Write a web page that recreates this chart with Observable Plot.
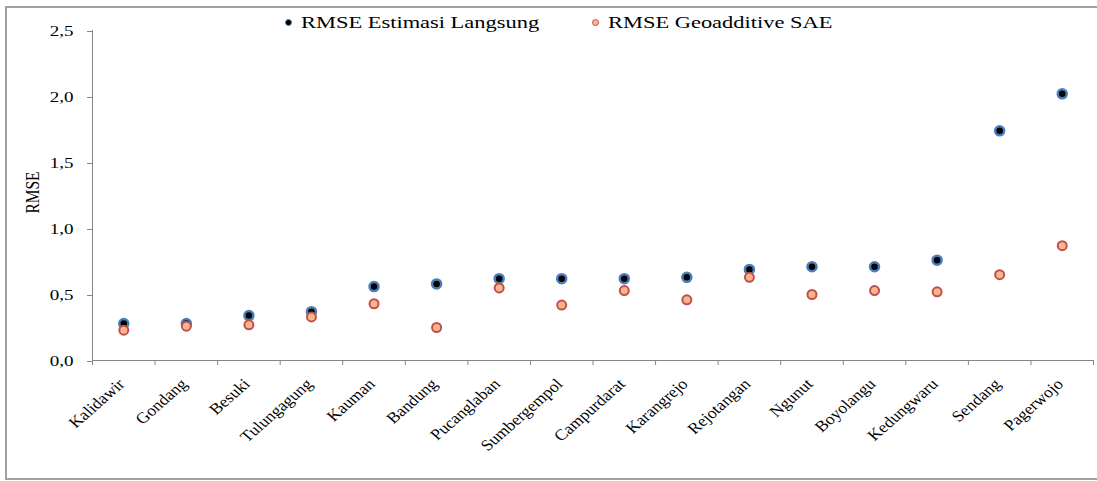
<!DOCTYPE html>
<html><head><meta charset="utf-8">
<script src="https://cdn.jsdelivr.net/npm/d3@7"></script>
<script src="https://cdn.jsdelivr.net/npm/@observablehq/plot@0.6"></script>
<style>
html,body{margin:0;padding:0;background:#fff;}
#wrap{position:relative;width:1097px;height:481px;overflow:hidden;background:#fff;}
#frame{position:absolute;left:5px;top:6px;width:1200px;height:474px;border:2px solid #a0a0a0;box-sizing:border-box;pointer-events:none;}
#chart{position:absolute;left:0;top:0;}
.legdot{position:absolute;width:7px;height:7px;border-radius:50%;box-sizing:border-box;}
.legtxt{position:absolute;top:15px;font-family:"Liberation Serif","Times New Roman",serif;font-size:16.5px;line-height:16.5px;color:#000;white-space:nowrap;transform:scaleX(1.36);transform-origin:left center;}
</style>
</head><body>
<div id="wrap">
  <div id="chart"></div>
  <div id="legend"></div>
  <div id="frame"></div>
</div>
<script>
const categories = ["Kalidawir","Gondang","Besuki","Tulungagung","Kauman","Bandung","Pucanglaban","Sumbergempol","Campurdarat","Karangrejo","Rejotangan","Ngunut","Boyolangu","Kedungwaru","Sendang","Pagerwojo"];
const rmseLangsung = [0.28,0.28,0.34,0.37,0.56,0.58,0.62,0.62,0.62,0.63,0.69,0.71,0.71,0.76,1.74,2.02];
const rmseGeoadditive = [0.23,0.26,0.27,0.33,0.43,0.25,0.55,0.42,0.53,0.46,0.63,0.50,0.53,0.52,0.65,0.87];
const yTicks = [0,0.5,1,1.5,2,2.5];
const seriesNames = ["RMSE Estimasi Langsung","RMSE Geoadditive SAE"];
const yLabel = "RMSE";

const rows = categories.map((c,i)=>({c, a: rmseLangsung[i], b: rmseGeoadditive[i]}));

const W=1097, H=481, mL=92, mR=4, mT=30, mB=121;
const step = (W-mL-mR)/categories.length;
const fmt = d => d.toFixed(1).replace(".", ",");
const axisColor = "#868686";

const chart = Plot.plot({
  width: W, height: H,
  marginLeft: mL, marginRight: mR, marginTop: mT, marginBottom: mB,
  style: {fontFamily: '"Liberation Serif","Times New Roman",serif', fontSize: "15px", color: "#000", background: "transparent"},
  x: {type: "point", domain: categories, padding: 0.5, round: false, axis: null},
  y: {domain: [0, 2.5], axis: null},
  marks: [
    Plot.ruleY([0], {stroke: axisColor, strokeWidth: 1}),
    Plot.ruleX([categories[0]], {dx: -step/2, y1: 0, y2: 2.5, stroke: axisColor, strokeWidth: 1}),
    Plot.axisY({ticks: yTicks, tickFormat: fmt, tickSize: 5, tickPadding: 14, dy: 1, stroke: axisColor, fill: "#000", label: null}),
    Plot.text([yLabel], {text: d => d, frameAnchor: "left", textAnchor: "middle", dx: -60, dy: -3, rotate: -90, fill: "#000", fontSize: 15.5}),
    Plot.axisX({ticks: categories, tickFormat: () => "", tickSize: 5, dx: -step/2, stroke: axisColor, label: null}),
    Plot.axisX({ticks: [categories[categories.length-1]], tickFormat: () => "", tickSize: 5, dx: step/2, stroke: axisColor, label: null}),
    Plot.axisX({ticks: categories, tickSize: 0, tickPadding: 21, dx: -2, tickRotate: -45, fill: "#000", fontSize: 15.5, label: null}),
    Plot.dot(rows, {x: "c", y: "a", r: 4.5, fill: "#000", stroke: "#4a7ebb", strokeWidth: 2.5}),
    Plot.dot(rows, {x: "c", y: "b", r: 4.5, fill: "#f9b68b", stroke: "#c0504d", strokeWidth: 2})
  ]
});

// The reference's text is stretched horizontally: scale each text about its anchor
function stretchFor(t) {
  const g = t.closest("[aria-label]");
  const lab = g ? g.getAttribute("aria-label") : "";
  if (/x-axis/.test(lab)) return 1.14;
  if (/y-axis/.test(lab)) return 1.27;
  return 1.25;
}
chart.querySelectorAll("text").forEach(t => {
  const S = stretchFor(t);
  const tr = t.getAttribute("transform");
  if (tr && /^\s*translate\(/.test(tr)) {
    const m = tr.match(/^(\s*translate\([^)]*\))(.*)$/);
    t.setAttribute("transform", m[1] + ` scale(${S},1)` + m[2]);
  } else {
    const x = +(t.getAttribute("x") || 0), y = +(t.getAttribute("y") || 0);
    t.setAttribute("transform", `translate(${x},${y}) scale(${S},1) translate(${-x},${-y})` + (tr ? " " + tr : ""));
  }
});
document.getElementById("chart").appendChild(chart);

// Legend
const legend = document.getElementById("legend");
const legItems = [
  {name: seriesNames[0], dotLeft: 285, txtLeft: 301, fill: "#000", stroke: "#4a7ebb"},
  {name: seriesNames[1], dotLeft: 592, txtLeft: 608, fill: "#f9b68b", stroke: "#c0504d"}
];
legItems.forEach(it => {
  const d = document.createElement("div");
  d.className = "legdot";
  d.style.left = it.dotLeft + "px";
  d.style.top = "19px";
  d.style.background = it.fill;
  d.style.border = "1.6px solid " + it.stroke;
  legend.appendChild(d);
  const t = document.createElement("div");
  t.className = "legtxt";
  t.style.left = it.txtLeft + "px";
  t.textContent = it.name;
  legend.appendChild(t);
});
</script>
</body></html>
